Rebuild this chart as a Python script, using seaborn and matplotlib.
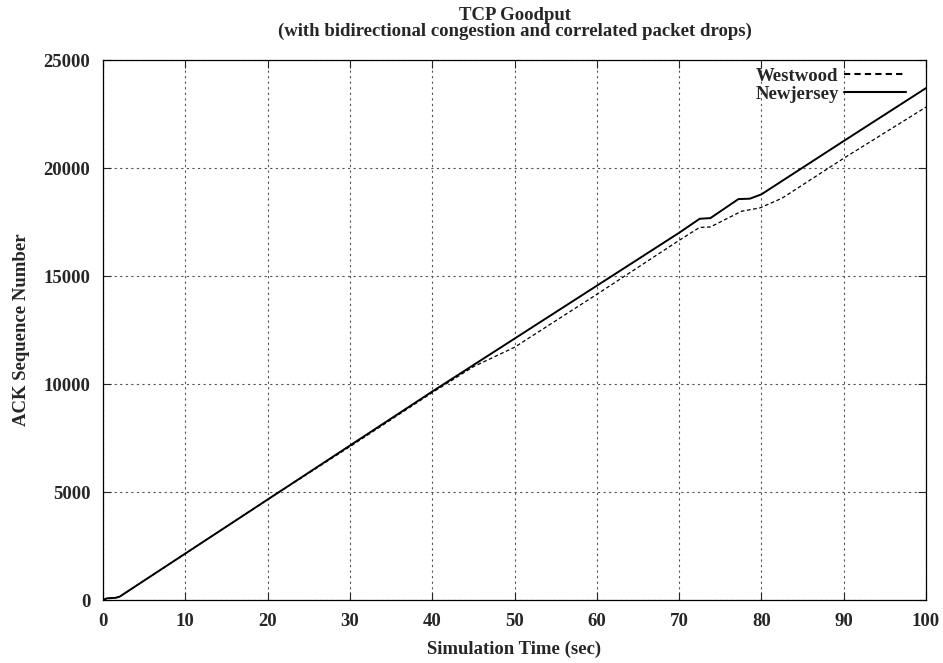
import numpy as np
import pandas as pd
import matplotlib.pyplot as plt
import seaborn as sns

# Newjersey curve
nj_t = [0, 0.5, 1.5, 2, 10, 20, 30, 40, 50, 60, 70, 72.5, 73.8, 77.2, 78.6, 80, 90, 100]
nj_ack = [0, 80, 100, 150, 2150, 4650, 7150, 9650, 12100, 14550, 17000, 17650, 17680,
          18560, 18580, 18780, 21250, 23700]

# Westwood curve
ww_t = [0, 0.5, 1.5, 2, 10, 20, 30, 40, 45, 50, 60, 70, 72.5, 73.8, 77.6, 79.8, 82.5, 90, 100]
ww_ack = [0, 80, 100, 150, 2150, 4650, 7100, 9600, 10800, 11700, 14150, 16650, 17250, 17270,
          18000, 18150, 18600, 20450, 22820]

df = pd.concat([
    pd.DataFrame({"t": ww_t, "ack": ww_ack, "proto": "Westwood"}),
    pd.DataFrame({"t": nj_t, "ack": nj_ack, "proto": "Newjersey"}),
])

sns.set_theme(style="ticks")
plt.rcParams['font.family'] = ['Liberation Serif', 'DejaVu Serif']
plt.rcParams['font.weight'] = 'bold'

fig = plt.figure(figsize=(9.43, 6.63), dpi=100)
ax = fig.add_axes([0.1092, 0.095, 0.8728, 0.8145])

sns.lineplot(data=df, x="t", y="ack", style="proto", estimator=None,
             dashes={"Westwood": (3, 2), "Newjersey": ""},
             color="black", ax=ax, sort=False)
for ln, lw in zip(ax.lines, [0.9, 1.4]):
    ln.set_linewidth(lw)

ax.set_xlim(0, 100)
ax.set_ylim(0, 25000)
ax.set_xticks(range(0, 101, 10))
ax.set_yticks(range(0, 25001, 5000))
ax.grid(True, linestyle=(0, (2, 3)), color="#555555", linewidth=0.8)
ax.tick_params(direction="in", top=True, right=True, labelsize=13.5, length=6, width=0.8)
ax.tick_params(axis="x", pad=9)
ax.tick_params(axis="y", pad=9)
for lab in ax.get_xticklabels() + ax.get_yticklabels():
    lab.set_fontweight("bold")
for s in ax.spines.values():
    s.set_linewidth(0.9)
    s.set_color("black")

ax.set_xlabel("Simulation Time (sec)", fontsize=13.5, fontweight="bold", labelpad=8)
ax.set_ylabel("ACK Sequence Number", fontsize=13.5, fontweight="bold", labelpad=10)
ax.set_title("TCP Goodput\n(with bidirectional congestion and correlated packet drops)",
             fontsize=13.5, fontweight="bold", pad=17, linespacing=0.95)

leg = ax.legend(loc="upper right", bbox_to_anchor=(0.985, 1.0), frameon=False,
                markerfirst=False, fontsize=13.5, handlelength=3.3, handletextpad=0.3,
                borderaxespad=0.1, labelspacing=0.05, borderpad=0.3)
for t in leg.get_texts():
    t.set_fontweight("bold")

fig.savefig("out.png", dpi=100)
